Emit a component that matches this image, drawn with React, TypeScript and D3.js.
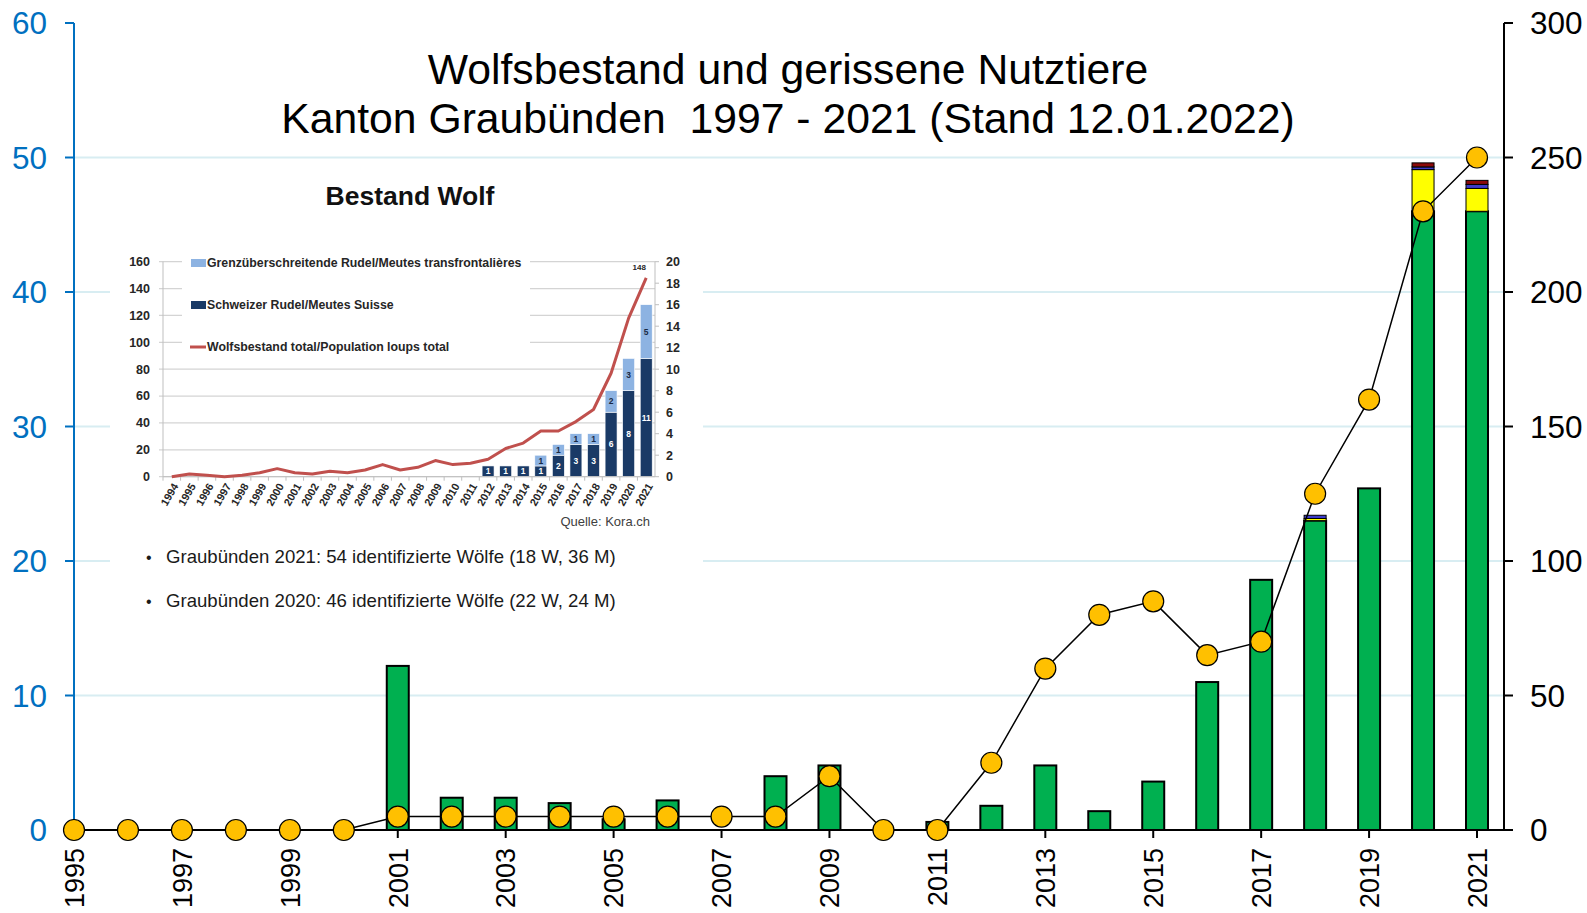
import * as d3 from "d3";

const WIDTH = 1587;
const HEIGHT = 913;

// main chart: wolves (left axis) and killed livestock (right axis, stacked)
const years = [
  1995, 1996, 1997, 1998, 1999, 2000, 2001, 2002, 2003, 2004, 2005, 2006, 2007, 2008,
  2009, 2010, 2011, 2012, 2013, 2014, 2015, 2016, 2017, 2018, 2019, 2020, 2021,
];
const wolves = [0, 0, 0, 0, 0, 0, 1, 1, 1, 1, 1, 1, 1, 1, 4, 0, 0, 5, 12, 16, 17, 13, 14, 25, 32, 46, 50];
const killedGreen = [0, 0, 0, 0, 0, 0, 61, 12, 12, 10, 4, 11, 0, 20, 24, 0, 3, 9, 24, 7, 18, 55, 93, 115, 127, 230, 230];
const killedYellow = [0, 0, 0, 0, 0, 0, 0, 0, 0, 0, 0, 0, 0, 0, 0, 0, 0, 0, 0, 0, 0, 0, 0, 0.8, 0, 15.5, 8.5];
const killedBlue = [0, 0, 0, 0, 0, 0, 0, 0, 0, 0, 0, 0, 0, 0, 0, 0, 0, 0, 0, 0, 0, 0, 0, 1.2, 0, 1, 1.5];
const killedRed = [0, 0, 0, 0, 0, 0, 0, 0, 0, 0, 0, 0, 0, 0, 0, 0, 0, 0, 0, 0, 0, 0, 0, 0, 0, 1.5, 1.5];
const leftTicks = [0, 10, 20, 30, 40, 50, 60];
const rightTicks = [0, 50, 100, 150, 200, 250, 300];
const yearLabels = [1995, 1997, 1999, 2001, 2003, 2005, 2007, 2009, 2011, 2013, 2015, 2017, 2019, 2021];

const segKeys = ["green", "yellow", "blue", "red"];
const segColors: Record<string, string> = {
  green: "#00b050",
  yellow: "#ffff00",
  blue: "#3c3cc8",
  red: "#8b0a0a",
};

// inset "Bestand Wolf" (Kora)
const insetYears = [
  1994, 1995, 1996, 1997, 1998, 1999, 2000, 2001, 2002, 2003, 2004, 2005, 2006, 2007,
  2008, 2009, 2010, 2011, 2012, 2013, 2014, 2015, 2016, 2017, 2018, 2019, 2020, 2021,
];
const insetPopulation = [0, 2, 1, 0, 1, 3, 6, 3, 2, 4, 3, 5, 9, 5, 7, 12, 9, 10, 13, 21, 25, 34, 34, 41, 50, 77, 118, 148];
const insetSwiss = [0, 0, 0, 0, 0, 0, 0, 0, 0, 0, 0, 0, 0, 0, 0, 0, 0, 0, 1, 1, 1, 1, 2, 3, 3, 6, 8, 11];
const insetCross = [0, 0, 0, 0, 0, 0, 0, 0, 0, 0, 0, 0, 0, 0, 0, 0, 0, 0, 0, 0, 0, 1, 1, 1, 1, 2, 3, 5];
const insetLeftTicks = [0, 20, 40, 60, 80, 100, 120, 140, 160];
const insetRightTicks = [0, 2, 4, 6, 8, 10, 12, 14, 16, 18, 20];
const insetLegend = [
  { label: "Grenzüberschreitende Rudel/Meutes transfrontalières", kind: "box", color: "#8db3e2" },
  { label: "Schweizer Rudel/Meutes Suisse", kind: "box", color: "#1a3a66" },
  { label: "Wolfsbestand total/Population loups total", kind: "line", color: "#c0504d" },
];
const bullets = [
  "Graubünden 2021: 54 identifizierte Wölfe (18 W, 36 M)",
  "Graubünden 2020: 46 identifizierte Wölfe (22 W, 24 M)",
];

const FONT = "'Liberation Sans', Arial, sans-serif";

const Inset = () => {
  const x = d3.scaleBand<number>().domain(insetYears).range([163, 655]).paddingInner(0.32).paddingOuter(0.16);
  const yL = d3.scaleLinear().domain([0, 160]).range([476.7, 261.7]);
  const yR = d3.scaleLinear().domain([0, 20]).range([476.7, 261.7]);
  const bw = x.bandwidth();
  const cx = (d: number) => (x(d) ?? 0) + bw / 2;

  const rows = insetYears.map((y, i) => ({ year: y, swiss: insetSwiss[i], cross: insetCross[i] }));
  const series = d3.stack<any>().keys(["swiss", "cross"])(rows);

  const line = d3
    .line<number>()
    .x((_, i) => cx(insetYears[i]))
    .y((d) => yL(d));

  const lastI = insetYears.length - 1;

  return (
    <g fontFamily={FONT}>
      <rect x={110} y={168} width={593} height={457} fill="#fff" />
      <text x={410} y={205} textAnchor="middle" fontSize={26.5} fontWeight="bold" fill="#111">
        Bestand Wolf
      </text>

      {/* grid */}
      {insetLeftTicks.map((t) => (
        <g key={t}>
          <line x1={159} x2={655} y1={yL(t)} y2={yL(t)} stroke="#d4d4d4" strokeWidth={1.2} />
          <text x={150} y={yL(t)} dy="0.35em" textAnchor="end" fontSize={12.5} fontWeight="bold" fill="#262626">
            {t}
          </text>
        </g>
      ))}
      {insetRightTicks.map((t) => (
        <g key={t}>
          <line x1={655} x2={659} y1={yR(t)} y2={yR(t)} stroke="#bfbfbf" />
          <text x={666} y={yR(t)} dy="0.35em" fontSize={12.5} fontWeight="bold" fill="#262626">
            {t}
          </text>
        </g>
      ))}
      <line x1={163} x2={163} y1={yL(160)} y2={yL(0)} stroke="#bfbfbf" />
      <line x1={655} x2={655} y1={yL(160)} y2={yL(0)} stroke="#bfbfbf" />
      {insetYears.map((y) => (
        <line key={y} x1={(x(y) ?? 0) - x.step() * 0.16} x2={(x(y) ?? 0) - x.step() * 0.16} y1={yL(0)} y2={yL(0) + 4} stroke="#bfbfbf" />
      ))}

      {/* legend */}
      <rect x={182} y={252} width={348} height={104} fill="#fff" />
      {insetLegend.map((l, i) => {
        const ly = 263 + i * 42;
        return (
          <g key={l.label}>
            {l.kind === "box" ? (
              <rect x={191} y={ly - 4} width={15} height={8} fill={l.color} />
            ) : (
              <line x1={190} x2={206} y1={ly} y2={ly} stroke={l.color} strokeWidth={3} />
            )}
            <text x={207} y={ly} dy="0.35em" fontSize={12.3} fontWeight="bold" fill="#262626">
              {l.label}
            </text>
          </g>
        );
      })}

      {/* bars */}
      {series.map((s) =>
        s.map((d, i) => {
          const v = d[1] - d[0];
          if (v <= 0) return null;
          const dark = s.key === "swiss";
          return (
            <g key={s.key + i}>
              <rect
                x={x(insetYears[i])}
                y={yR(d[1])}
                width={bw}
                height={yR(d[0]) - yR(d[1])}
                fill={dark ? "#1a3a66" : "#8db3e2"}
                stroke="#fff"
                strokeWidth={0.6}
              />
              <text
                x={cx(insetYears[i])}
                y={(yR(d[0]) + yR(d[1])) / 2}
                dy="0.35em"
                textAnchor="middle"
                fontSize={8.5}
                fontWeight="bold"
                fill={dark ? "#fff" : "#1a2a44"}
              >
                {v}
              </text>
            </g>
          );
        })
      )}

      <line x1={163} x2={655} y1={yL(0)} y2={yL(0)} stroke="#bfbfbf" />
      <path d={line(insetPopulation) ?? ""} fill="none" stroke="#c0504d" strokeWidth={3} strokeLinejoin="round" />
      <text x={cx(insetYears[lastI]) - 7} y={yL(insetPopulation[lastI]) - 8} textAnchor="middle" fontSize={8} fontWeight="bold" fill="#262626">
        {insetPopulation[lastI]}
      </text>

      {insetYears.map((y) => (
        <text
          key={y}
          transform={`translate(${cx(y) + 7},${486}) rotate(-60)`}
          textAnchor="end"
          fontSize={10.8}
          fontWeight="bold"
          fill="#262626"
        >
          {y}
        </text>
      ))}
      <text x={650} y={526} textAnchor="end" fontSize={13} fill="#404040">
        Quelle: Kora.ch
      </text>

      {bullets.map((b, i) => (
        <g key={b}>
          <text x={146} y={563 + i * 44} fontSize={16} fill="#1a1a1a">
            •
          </text>
          <text x={166} y={563 + i * 44} fontSize={18.6} fill="#1a1a1a">
            {b}
          </text>
        </g>
      ))}
    </g>
  );
};

export default function App() {
  const x = d3.scalePoint<number>().domain(years).range([74, 1477]);
  const yL = d3.scaleLinear().domain([0, 60]).range([830, 23]);
  const yR = d3.scaleLinear().domain([0, 300]).range([830, 23]);
  const barW = 22;

  const rows = years.map((y, i) => ({
    year: y,
    green: killedGreen[i],
    yellow: killedYellow[i],
    blue: killedBlue[i],
    red: killedRed[i],
  }));
  const series = d3.stack<any>().keys(segKeys)(rows);

  const wolfLine = d3
    .line<number>()
    .x((_, i) => x(years[i]) ?? 0)
    .y((d) => yL(d));

  return (
    <svg
      width={WIDTH}
      height={HEIGHT}
      style={{ position: "absolute", left: 0, top: 0, background: "#fff" }}
      fontFamily={FONT}
    >
      <rect width={WIDTH} height={HEIGHT} fill="#fff" />

      {/* gridlines */}
      {leftTicks.slice(1, -1).map((t) => (
        <line key={t} x1={74} x2={1504} y1={yL(t)} y2={yL(t)} stroke="#d8edf2" strokeWidth={2} />
      ))}

      <text x={788} y={84} textAnchor="middle" fontSize={42.7} fill="#000">
        Wolfsbestand und gerissene Nutztiere
      </text>
      <text x={788} y={133} textAnchor="middle" fontSize={42.7} fill="#000" style={{ whiteSpace: "pre" }}>
        {"Kanton Graubünden  1997 - 2021 (Stand 12.01.2022)"}
      </text>

      <Inset />

      {/* stacked bars */}
      {series.map((s) =>
        s.map((d, i) => {
          if (d[1] - d[0] <= 0) return null;
          return (
            <rect
              key={s.key + i}
              x={(x(years[i]) ?? 0) - barW / 2}
              y={yR(d[1])}
              width={barW}
              height={yR(d[0]) - yR(d[1])}
              fill={segColors[s.key]}
              stroke="#000"
              strokeWidth={s.key === "green" ? 2 : 1}
            />
          );
        })
      )}

      {/* axes */}
      <line x1={74} x2={1513} y1={830} y2={830} stroke="#000" strokeWidth={2} />
      {yearLabels.map((y) => (
        <g key={y}>
          <line x1={x(y)} x2={x(y)} y1={830} y2={838} stroke="#000" strokeWidth={2} />
          <text
            transform={`translate(${x(y)},${848}) rotate(-90)`}
            textAnchor="end"
            dy="0.36em"
            fontSize={27}
            fill="#000"
          >
            {y}
          </text>
        </g>
      ))}

      <line x1={74} x2={74} y1={yL(60)} y2={830} stroke="#0070c0" strokeWidth={2} />
      {leftTicks.map((t) => (
        <g key={t}>
          <line x1={65} x2={74} y1={yL(t)} y2={yL(t)} stroke="#0070c0" strokeWidth={2} />
          <text x={47} y={yL(t)} dy="0.36em" textAnchor="end" fontSize={31.5} fill="#0070c0">
            {t}
          </text>
        </g>
      ))}

      <line x1={1504} x2={1504} y1={yR(300)} y2={830} stroke="#000" strokeWidth={2} />
      {rightTicks.map((t) => (
        <g key={t}>
          <line x1={1504} x2={1513} y1={yR(t)} y2={yR(t)} stroke="#000" strokeWidth={2} />
          <text x={1530} y={yR(t)} dy="0.36em" fontSize={31.5} fill="#000">
            {t}
          </text>
        </g>
      ))}

      {/* wolves line */}
      <path d={wolfLine(wolves) ?? ""} fill="none" stroke="#000" strokeWidth={1.5} />
      {wolves.map((w, i) => (
        <circle key={i} cx={x(years[i])} cy={yL(w)} r={10.5} fill="#ffc000" stroke="#000" strokeWidth={1.2} />
      ))}
    </svg>
  );
}
